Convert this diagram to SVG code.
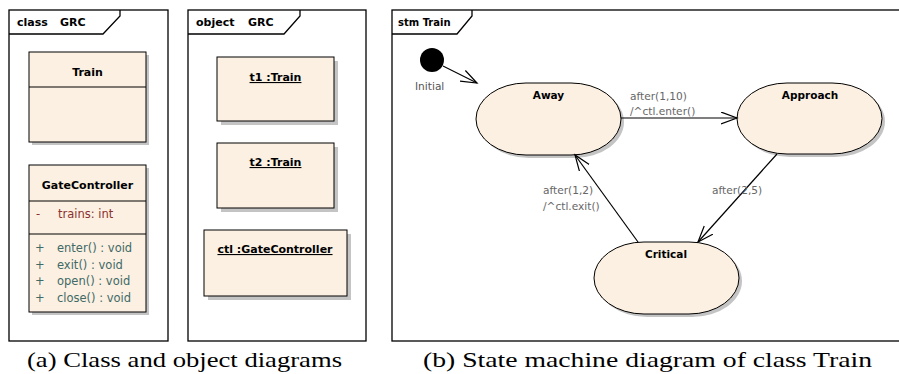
<svg xmlns="http://www.w3.org/2000/svg" width="899" height="374" viewBox="0 0 899 374">
<style>
.frame{fill:none;stroke:#000;stroke-width:1.3}
.box{fill:#fbf0e2;stroke:#000;stroke-width:1}
.shadow{fill:#c4c4c4;stroke:none}
.hdr{font-family:"DejaVu Sans",sans-serif;font-weight:bold;font-size:11px;fill:#000}
.title{font-family:"DejaVu Sans",sans-serif;font-weight:bold;font-size:11px;fill:#000;text-anchor:middle}
.stitle{font-family:"DejaVu Sans",sans-serif;font-weight:bold;font-size:10.5px;fill:#000;text-anchor:middle}
.attr{font-family:"DejaVu Sans",sans-serif;font-size:11.5px;fill:#8b3030}
.meth{font-family:"DejaVu Sans",sans-serif;font-size:11.5px;fill:#3f6a66}
.lbl{font-family:"DejaVu Sans",sans-serif;font-size:10.6px;fill:#666}
.edge{fill:none;stroke:#000;stroke-width:1.2}
.cap{font-family:"Liberation Serif",serif;font-size:21px;fill:#000}
</style>
<defs>
<marker id="open" markerWidth="18" markerHeight="14" refX="16" refY="6.5" orient="auto" markerUnits="userSpaceOnUse">
<path d="M0,0.5 L16,6.5 L0,12.5" fill="none" stroke="#000" stroke-width="1.2"/>
</marker>
</defs>
<rect width="899" height="374" fill="#fff"/>

<g id="class-frame">
<rect class="frame" x="9" y="10" width="159" height="331"/>
<path class="frame" d="M9,34 L103,34 L120,16 L120,10"/>
<text class="hdr" x="17" y="26">class</text>
<text class="hdr" x="60" y="26">GRC</text>
</g>
<g id="Train">
<rect class="shadow" x="32" y="55" width="117" height="90"/>
<rect class="box" x="29" y="52" width="117" height="90"/>
<line x1="29" y1="87" x2="146" y2="87" stroke="#000"/>
<text class="title" x="87.5" y="76">Train</text>
</g>
<g id="GateController">
<rect class="shadow" x="32" y="168" width="117" height="147"/>
<rect class="box" x="29" y="165" width="117" height="147"/>
<line x1="29" y1="201" x2="146" y2="201" stroke="#000"/>
<line x1="29" y1="234" x2="146" y2="234" stroke="#000"/>
<text class="title" x="87.5" y="189">GateController</text>
<text class="attr" x="36" y="218">-</text>
<text class="attr" x="58" y="218">trains:  int</text>
<text class="meth" x="35" y="252">+</text><text class="meth" x="57" y="252">enter() : void</text>
<text class="meth" x="35" y="268.5">+</text><text class="meth" x="57" y="268.5">exit() : void</text>
<text class="meth" x="35" y="285">+</text><text class="meth" x="57" y="285">open() : void</text>
<text class="meth" x="35" y="301.5">+</text><text class="meth" x="57" y="301.5">close() : void</text>
</g>

<g id="object-frame">
<rect class="frame" x="188" y="10" width="178" height="331"/>
<path class="frame" d="M188,34 L284,34 L300,16 L300,10"/>
<text class="hdr" x="196" y="26">object</text>
<text class="hdr" x="248" y="26">GRC</text>
</g>
<g id="t1">
<rect class="shadow" x="221" y="61" width="117" height="64"/>
<rect class="box" x="217" y="57" width="117" height="64"/>
<text class="title" x="275.5" y="81" text-decoration="underline">t1 :Train</text>
</g>
<g id="t2">
<rect class="shadow" x="221" y="147" width="117" height="65"/>
<rect class="box" x="217" y="143" width="117" height="65"/>
<text class="title" x="275.5" y="166" text-decoration="underline">t2 :Train</text>
</g>
<g id="ctl">
<rect class="shadow" x="208" y="234" width="143" height="66"/>
<rect class="box" x="204" y="230" width="143" height="66"/>
<text class="title" x="275" y="253" text-decoration="underline">ctl :GateController</text>
</g>

<g id="stm-frame">
<rect class="frame" x="392" y="10" width="512" height="331"/>
<path class="frame" d="M392,34 L457,34 L472,16 L472,10"/>
<text class="hdr" x="398" y="26" style="font-size:10px">stm Train</text>
</g>
<g id="Initial">
<circle cx="432" cy="60" r="12" fill="#000"/>
<text class="lbl" x="415" y="90" style="fill:#555">Initial</text>
</g>
<g id="Away">
<rect class="shadow" x="479" y="86" width="145" height="72" rx="50" ry="36"/>
<rect class="box" x="476" y="83" width="145" height="72" rx="50" ry="36"/>
<text class="stitle" x="548.5" y="99">Away</text>
</g>
<g id="Approach">
<rect class="shadow" x="740" y="86" width="145" height="71" rx="50" ry="35.5"/>
<rect class="box" x="737" y="83" width="145" height="71" rx="50" ry="35.5"/>
<text class="stitle" x="810" y="99">Approach</text>
</g>
<g id="Critical">
<rect class="shadow" x="597" y="245" width="145" height="72" rx="50" ry="36"/>
<rect class="box" x="594" y="242" width="145" height="72" rx="50" ry="36"/>
<text class="stitle" x="666" y="258">Critical</text>
</g>

<g id="connectors">
<line class="edge" x1="443" y1="66" x2="477" y2="83" marker-end="url(#open)"/>
<line class="edge" x1="621" y1="118" x2="737" y2="118" marker-end="url(#open)"/>
<line class="edge" x1="777" y1="154" x2="698" y2="242" marker-end="url(#open)"/>
<line class="edge" x1="638" y1="242" x2="575" y2="155" marker-end="url(#open)"/>
<text class="lbl" x="630" y="100">after(1,10)</text>
<text class="lbl" x="630" y="115">/^ctl.enter()</text>
<text class="lbl" x="712" y="194">after(2,5)</text>
<text class="lbl" x="543" y="194">after(1,2)</text>
<text class="lbl" x="543" y="210">/^ctl.exit()</text>
</g>

<text class="cap" x="27" y="367" textLength="315" lengthAdjust="spacingAndGlyphs">(a) Class and object diagrams</text>
<text class="cap" x="423" y="367" textLength="449" lengthAdjust="spacingAndGlyphs">(b) State machine diagram of class Train</text>
</svg>
